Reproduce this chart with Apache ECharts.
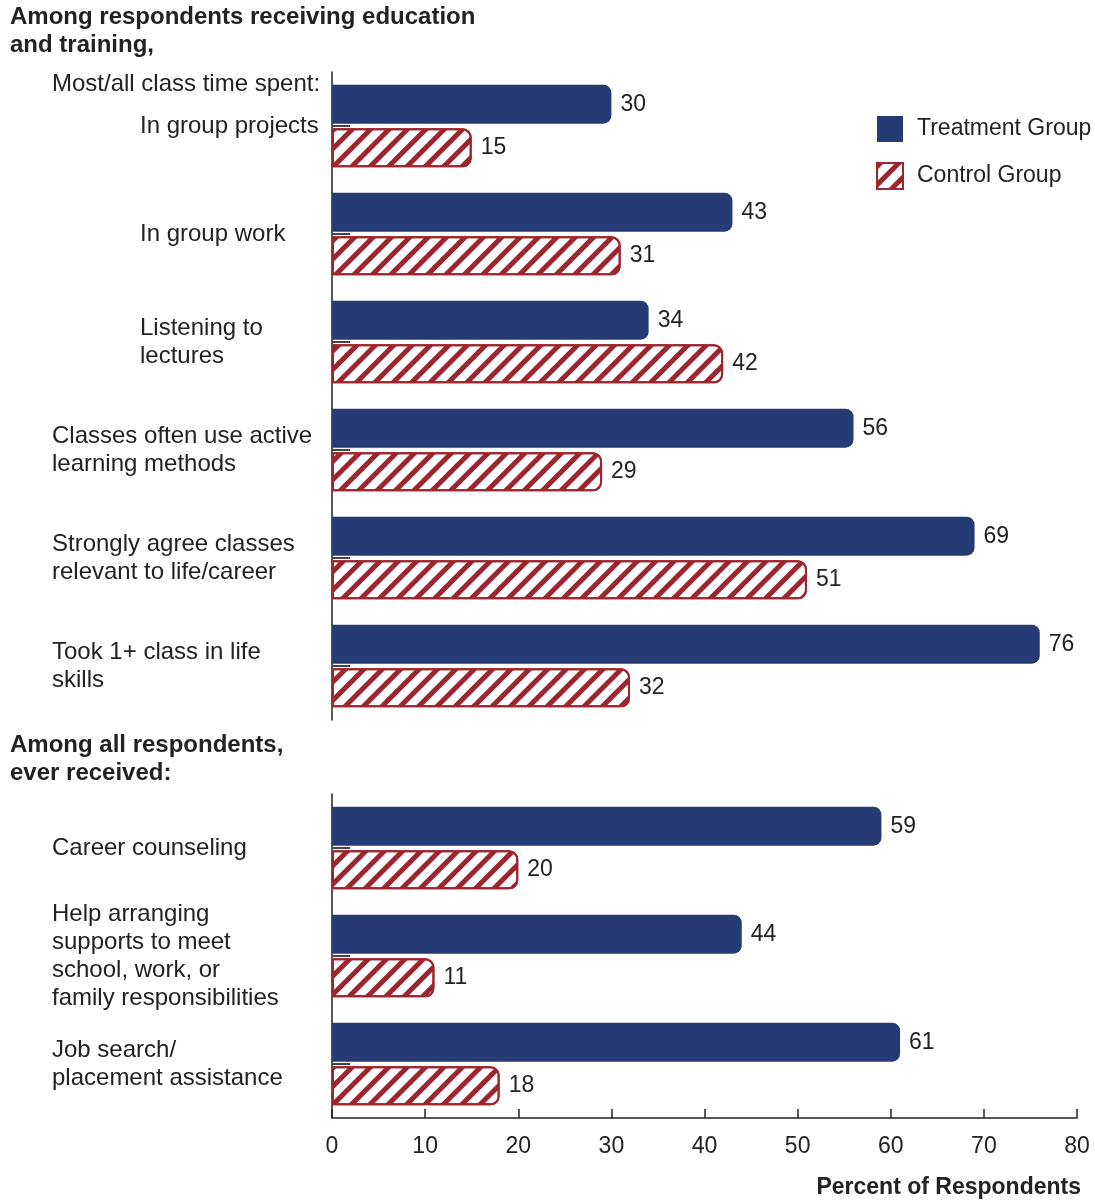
<!DOCTYPE html>
<html>
<head>
<meta charset="utf-8">
<script src="https://cdn.jsdelivr.net/npm/echarts@6/dist/echarts.min.js"></script>
<style>
  html, body { margin: 0; padding: 0; background: #fff; }
  #chart { width: 1095px; height: 1200px; }
</style>
</head>
<body>
<div id="chart"></div>
<script>
// Education and training experiences, treatment vs control (percent of respondents)
const topCategories = [
  'In group projects',
  'In group work',
  'Listening to\nlectures',
  'Classes often use active\nlearning methods',
  'Strongly agree classes\nrelevant to life/career',
  'Took 1+ class in life\nskills'
];
const topTreatment = [30, 43, 34, 56, 69, 76];
const topControl = [15, 31, 42, 29, 51, 32];

const bottomCategories = [
  'Career counseling',
  'Help arranging\nsupports to meet\nschool, work, or\nfamily responsibilities',
  'Job search/\nplacement assistance'
];
const bottomTreatment = [59, 44, 61];
const bottomControl = [20, 11, 18];

const seriesNames = ['Treatment Group', 'Control Group'];
const sectionTitles = [
  'Among respondents receiving education\nand training,',
  'Among all respondents,\never received:'
];
const subHeading = 'Most/all class time spent:';
const axisTitle = 'Percent of Respondents';

// label layout tweaks (indent in px, upward lift in px)
const topIndent = [88, 88, 88, 0, 0, 0];
const topLift = [6, 5, 3, 15, 12, 0];
const bottomIndent = [0, 0, 0];
const bottomLift = [1, 0, -1];

const NAVY = '#263b73';
const RED = '#9d252e';
const INK = '#222';
const FONT = '"Liberation Sans", Arial, sans-serif';

function categoryItems(names, indent, lift) {
  return names.map((n, i) => ({
    value: n,
    textStyle: {
      align: 'left',
      padding: [Math.max(0, -2 * lift[i]), 0, Math.max(0, 2 * lift[i]), indent[i]]
    }
  }));
}

function yAxisFor(gridIndex, names, indent, lift) {
  return {
    type: 'category',
    gridIndex: gridIndex,
    inverse: true,
    data: categoryItems(names, indent, lift),
    axisLine: { show: true, lineStyle: { color: INK, width: 1.5 } },
    axisTick: { show: true, alignWithLabel: true, inside: true, length: 18, lineStyle: { color: '#444', width: 2 } },
    axisLabel: { align: 'left', margin: 280, fontSize: 24, lineHeight: 28, color: INK, fontFamily: FONT }
  };
}

const valueLabel = { show: true, position: 'right', distance: 9, fontSize: 23, color: INK, fontFamily: FONT };

const treatmentStyle = { color: NAVY, borderRadius: [0, 8, 8, 0] };
const controlStyle = {
  color: '#fff',
  borderColor: RED,
  borderWidth: 2,
  borderRadius: [0, 8, 8, 0],
  decal: {
    symbol: 'rect',
    symbolSize: 1,
    dashArrayX: [1, 0],
    dashArrayY: [5, 8],
    rotation: -Math.PI / 4,
    color: RED
  }
};

function barSeries(name, data, idx, style) {
  return {
    name: name,
    type: 'bar',
    xAxisIndex: idx,
    yAxisIndex: idx,
    data: data,
    barWidth: 39,
    barGap: '12%',
    label: valueLabel,
    itemStyle: style,
    emphasis: { disabled: true }
  };
}

const chart = echarts.init(document.getElementById('chart'));
chart.setOption({
  animation: false,
  backgroundColor: '#fff',
  textStyle: { fontFamily: FONT },
  grid: [
    { left: 332, right: 18, top: 72, height: 648, containLabel: false, outerBoundsMode: 'none' },
    { left: 332, right: 18, top: 794, height: 324, containLabel: false, outerBoundsMode: 'none' }
  ],
  xAxis: [
    { type: 'value', gridIndex: 0, min: 0, max: 80, interval: 10, show: false },
    {
      type: 'value', gridIndex: 1, min: 0, max: 80, interval: 10,
      splitLine: { show: false },
      axisLine: { show: true, lineStyle: { color: INK, width: 1.5 } },
      axisTick: { show: true, inside: true, length: 9, lineStyle: { color: INK, width: 1.5 } },
      axisLabel: { margin: 17, fontSize: 23, color: INK, fontFamily: FONT }
    }
  ],
  yAxis: [
    yAxisFor(0, topCategories, topIndent, topLift),
    yAxisFor(1, bottomCategories, bottomIndent, bottomLift)
  ],
  legend: {
    data: seriesNames,
    orient: 'vertical',
    left: 876,
    top: 116,
    padding: 0,
    itemWidth: 26,
    itemHeight: 26,
    itemGap: 20,
    icon: 'rect',
    selectedMode: false,
    textStyle: { fontSize: 23, color: INK, fontFamily: FONT, padding: [0, 0, 0, 9] }
  },
  series: [
    barSeries(seriesNames[0], topTreatment, 0, treatmentStyle),
    barSeries(seriesNames[1], topControl, 0, controlStyle),
    barSeries(seriesNames[0], bottomTreatment, 1, treatmentStyle),
    barSeries(seriesNames[1], bottomControl, 1, controlStyle)
  ],
  graphic: [
    { type: 'text', x: 10, y: 3, style: { text: sectionTitles[0], font: 'bold 24px ' + FONT, lineHeight: 28, fill: INK } },
    { type: 'text', x: 52, y: 70, style: { text: subHeading, font: '24px ' + FONT, lineHeight: 28, fill: INK } },
    { type: 'text', x: 10, y: 731, style: { text: sectionTitles[1], font: 'bold 24px ' + FONT, lineHeight: 28, fill: INK } },
    { type: 'text', x: 1081, y: 1188, style: { text: axisTitle, font: 'bold 23px ' + FONT, fill: INK, textAlign: 'right', textVerticalAlign: 'middle' } }
  ]
});
</script>
</body>
</html>
